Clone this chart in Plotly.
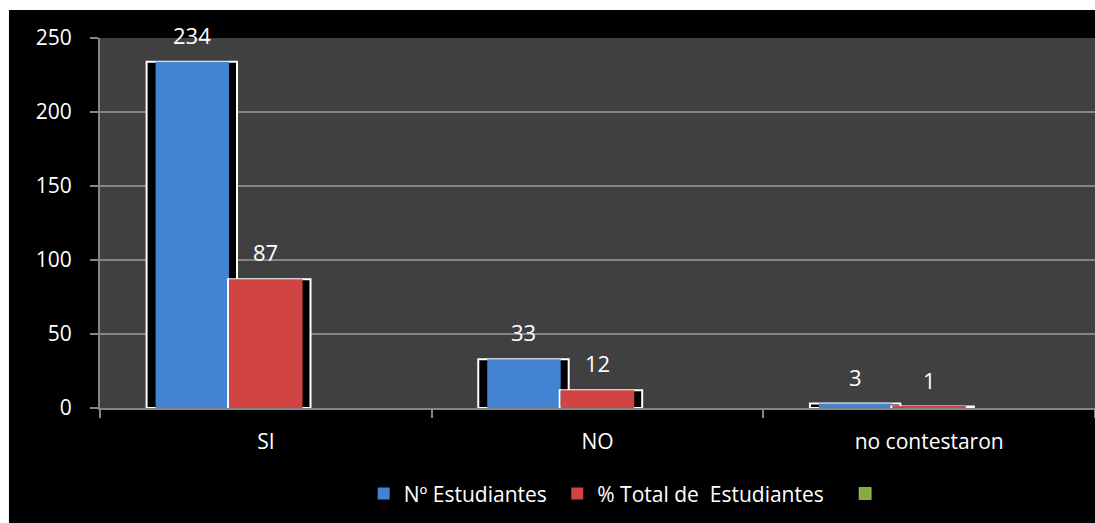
import plotly.graph_objects as go

categories = ["SI", "NO", "no contestaron"]
estudiantes = [234, 33, 3]
porcentaje = [87, 12, 1]
serie3 = [None, None, None]

BLUE = "#4283d4"
RED = "#d04444"
GREEN = "#86ad3a"
GRID = "#858585"
FONT = "Open Sans"

# slot layout inside each category (category units)
SLOT = 0.2216
START = -0.3325

fig = go.Figure()

# black "shadow" boxes with white outline, then the coloured faces
series = [
    ("Nº Estudiantes&nbsp;", estudiantes, BLUE, 0, 0.027),
    ("% Total de  Estudiantes&nbsp;&nbsp;&nbsp;", porcentaje, RED, 1, 0.003),
]
for name, vals, color, k, pad_left in series:
    off = START + k * SLOT
    fig.add_trace(go.Bar(
        x=categories, y=vals, offset=off - pad_left, width=SLOT + pad_left + 0.024,
        marker=dict(color="black", line=dict(color="white", width=2)),
        showlegend=False, hoverinfo="skip",
    ))
    fig.add_trace(go.Bar(
        x=categories, y=vals, offset=off, width=SLOT,
        marker=dict(color=color, line=dict(width=0)),
        name=name,
    ))
    for i, v in enumerate(vals):
        fig.add_annotation(
            x=i + off + SLOT / 2, y=v, text=str(v), showarrow=False,
            yanchor="bottom", yshift=10,
            font=dict(color="white", size=22, family=FONT),
        )

fig.add_trace(go.Bar(
    x=categories, y=serie3, offset=START + 2 * SLOT, width=SLOT,
    marker=dict(color=GREEN), name=" ",
))

# black frame behind the chart (white margin only at top/left), grey plot area
fig.add_shape(type="rect", xref="paper", yref="paper",
              x0=-0.0915, x1=1.0, y0=-0.311, y1=1.0757,
              fillcolor="black", line=dict(width=0), layer="below")
fig.add_shape(type="rect", xref="paper", yref="paper",
              x0=0, x1=1, y0=0, y1=1,
              fillcolor="#404040", line=dict(width=0), layer="below")

fig.update_layout(
    width=1095, height=523,
    margin=dict(l=100, r=0, t=38, b=115),
    paper_bgcolor="white", plot_bgcolor="rgba(0,0,0,0)",
    barmode="overlay",
    font=dict(family=FONT, size=21, color="white"),
    showlegend=True,
    legend=dict(orientation="h", x=0.265, xanchor="left", y=-0.232,
                yanchor="middle", bgcolor="rgba(0,0,0,0)",
                font=dict(size=21, color="white"), itemwidth=30),
)
fig.update_xaxes(
    type="category", range=[-0.5, 2.5],
    showline=True, linecolor=GRID, linewidth=2,
    ticks="outside", tickson="boundaries", ticklen=8, tickcolor=GRID,
    tickwidth=2, ticklabelstandoff=14, showgrid=False,
    tickfont=dict(size=21, color="white"),
)
fig.update_yaxes(
    range=[0, 250], dtick=50,
    showline=True, linecolor=GRID, linewidth=2,
    showgrid=True, gridcolor=GRID, gridwidth=2,
    ticks="outside", ticklen=8, tickcolor=GRID, tickwidth=2,
    ticklabelstandoff=14, zeroline=False,
    tickfont=dict(size=21, color="white"),
)

# drop the default 8px body margin so the figure fills the window
fig.write_html("out.html", config={"displayModeBar": False},
               post_script="document.body.style.margin='0';")
